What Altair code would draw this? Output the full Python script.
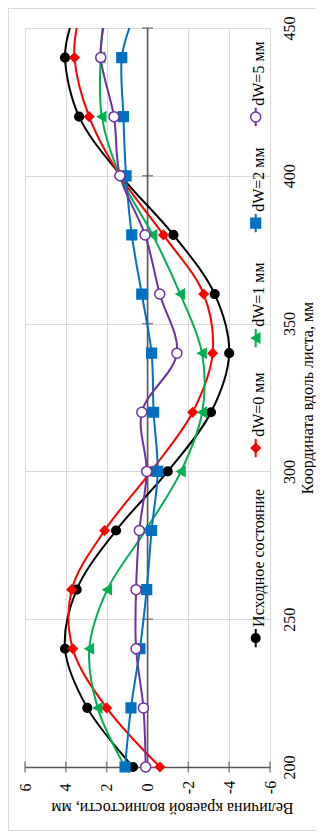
import altair as alt
import pandas as pd

# ---------------- data ----------------
coords = [200, 220, 240, 260, 280, 300, 320, 340, 360, 380, 400, 420, 440, 450]
series_names = ["Исходное состояние", "dW=0 мм", "dW=1 мм", "dW=2 мм", "dW=5 мм"]
v_initial = [0.71, 2.95, 4.04, 3.47, 1.54, -0.99, -3.11, -4.00, -3.29, -1.27, 1.30, 3.35, 4.04, 3.80]
v_dw0 = [-0.61, 2.00, 3.66, 3.71, 2.10, -0.17, -2.21, -3.19, -2.75, -0.78, 1.35, 2.86, 3.58, 3.47]
v_dw1 = [1.10, 2.44, 2.85, 1.97, 0.10, -1.64, -2.68, -2.67, -1.60, -0.25, 1.35, 2.24, 2.30, 2.20]
v_dw2 = [1.10, 0.81, 0.37, 0.04, -0.20, -0.50, -0.30, -0.20, 0.28, 0.77, 1.05, 1.18, 1.26, 0.89]
v_dw5 = [0.09, 0.20, 0.56, 0.56, 0.40, 0.04, 0.28, -1.44, -0.60, 0.12, 1.35, 1.64, 2.29, 2.16]
marker_coords = coords[:-1]           # the last point (450) carries no marker
value_ticks = [-6, -4, -2, 0, 2, 4, 6]
coord_ticks = [200, 250, 300, 350, 400, 450]

# ---------------- styles ----------------
colors = ["#000000", "#ff0000", "#00b050", "#0070c0", "#7030a0"]
fills = ["#000000", "#ff0000", "#00b050", "#0070c0", "#ffffff"]
shapes = ["circle", "diamond", "triangle-left", "square", "circle"]
sizes = [75, 100, 85, 65, 70]
stroke_widths = [1.5, 1.5, 1.5, 1.5, 2.0]
legend_marker_c = [243.6, 307.9, 345.1, 384.0, 419.9]   # legend layout (in axis units)
FONT = "Liberation Serif"
GRID = "#d9d9d9"
AXIS = "#595959"

all_values = [v_initial, v_dw0, v_dw1, v_dw2, v_dw5]
rows = []
for name, vals in zip(series_names, all_values):
    for c, v in zip(coords, vals):
        rows.append({"series": name, "c": c, "v": v, "marker": c in marker_coords})
df = pd.DataFrame(rows)

legend_df = pd.DataFrame({
    "series": series_names,
    "c": legend_marker_c,
    "c_lo": [m - 3.1 for m in legend_marker_c],
    "c_hi": [m + 3.1 for m in legend_marker_c],
    "c_text": [m + 3.8 for m in legend_marker_c],
    "v": [-5.3] * 5,
    "v_text": [-5.47] * 5,
})

color_scale = alt.Scale(domain=series_names, range=colors)
fill_scale = alt.Scale(domain=series_names, range=fills)
shape_scale = alt.Scale(domain=series_names, range=shapes)
size_scale = alt.Scale(domain=series_names, range=sizes)
sw_scale = alt.Scale(domain=series_names, range=stroke_widths)

x_scale = alt.Scale(domain=[-6, 6], reverse=True, nice=False, zero=False)
y_scale = alt.Scale(domain=[200, 450], nice=False, zero=False)

x_axis = alt.Axis(
    orient="bottom", values=value_ticks, grid=True, gridColor=GRID, gridWidth=1,
    domain=True, domainColor=AXIS, domainWidth=1.5, ticks=False,
    labelAngle=270, labelAlign="center", labelBaseline="middle", labelPadding=20,
    labelFlush=False, labelOverlap=False, labelFont=FONT, labelFontSize=16, labelColor="black",
    labelExpr="toString(datum.value)",
    title="Величина краевой волнистости, мм", titleFont=FONT, titleFontSize=16,
    titleFontWeight="normal", titleColor="black", titleAngle=180, titleAlign="center",
    titleBaseline="middle", titleX=147, titleY=40,
)
y_axis = alt.Axis(
    orient="right", values=coord_ticks, grid=True, gridColor=GRID, gridWidth=1,
    domain=False, ticks=False,
    labelAngle=270, labelAlign="center", labelBaseline="middle", labelPadding=19,
    labelFlush=False, labelOverlap=False, labelFont=FONT, labelFontSize=16, labelColor="black",
    title="Координата вдоль листа, мм", titleFont=FONT, titleFontSize=16,
    titleFontWeight="normal", titleColor="black", titleAngle=270, titleAlign="center",
    titleBaseline="middle", titleX=37, titleY=369.5,
)


def X(field):
    return alt.X(field, scale=x_scale, axis=x_axis)


def Y(field):
    return alt.Y(field, scale=y_scale, axis=y_axis)


# bottom axis cross ticks
bottom_ticks = alt.Chart(pd.DataFrame({"v": value_ticks, "c": [200] * len(value_ticks)})).mark_tick(
    orient="vertical", size=11, thickness=1.5, color=AXIS
).encode(x=X("v:Q"), y=Y("c:Q"))

# zero line with cross ticks
zero_line = alt.Chart(pd.DataFrame({"v": [0], "c": [200], "c2": [450]})).mark_rule(
    color=AXIS, strokeWidth=1.5
).encode(x=X("v:Q"), y=Y("c:Q"), y2="c2:Q")
zero_ticks = alt.Chart(pd.DataFrame({"v": [0] * 5, "c": coord_ticks[1:]})).mark_tick(
    orient="horizontal", size=11, thickness=1.5, color=AXIS
).encode(x=X("v:Q"), y=Y("c:Q"))

lines = alt.Chart(df).mark_line(interpolate="catmull-rom", strokeWidth=2).encode(
    x=X("v:Q"), y=Y("c:Q"),
    color=alt.Color("series:N", scale=color_scale, legend=None),
    order=alt.Order("c:Q"),
)

points = alt.Chart(df).transform_filter("datum.marker").mark_point(opacity=1).encode(
    x=X("v:Q"), y=Y("c:Q"),
    stroke=alt.Stroke("series:N", scale=color_scale, legend=None),
    fill=alt.Fill("series:N", scale=fill_scale, legend=None),
    shape=alt.Shape("series:N", scale=shape_scale, legend=None),
    size=alt.Size("series:N", scale=size_scale, legend=None),
    strokeWidth=alt.StrokeWidth("series:N", scale=sw_scale, legend=None),
)

# manual (rotated) legend
leg_lines = alt.Chart(legend_df).mark_rule(strokeWidth=2).encode(
    x=X("v:Q"), y=Y("c_lo:Q"), y2="c_hi:Q",
    color=alt.Color("series:N", scale=color_scale, legend=None),
)
leg_points = alt.Chart(legend_df).mark_point(opacity=1).encode(
    x=X("v:Q"), y=Y("c:Q"),
    stroke=alt.Stroke("series:N", scale=color_scale, legend=None),
    fill=alt.Fill("series:N", scale=fill_scale, legend=None),
    shape=alt.Shape("series:N", scale=shape_scale, legend=None),
    size=alt.Size("series:N", scale=size_scale, legend=None),
    strokeWidth=alt.StrokeWidth("series:N", scale=sw_scale, legend=None),
)
leg_text = alt.Chart(legend_df).mark_text(
    angle=270, align="left", baseline="middle", font=FONT, fontSize=16, color="black"
).encode(x=X("v_text:Q"), y=Y("c_text:Q"), text="series:N")

# outer frame of the figure (pixel positions)
frame_df = pd.DataFrame({"k": [0]})
frame_top = alt.Chart(frame_df).mark_rule(color=GRID, strokeWidth=1).encode(
    x=alt.value(-17), x2=alt.value(292), y=alt.value(-19.5))
frame_left = alt.Chart(frame_df).mark_rule(color=GRID, strokeWidth=1).encode(
    x=alt.value(-16.5), y=alt.value(-20), y2=alt.value(802.5))
frame_bottom = alt.Chart(frame_df).mark_rule(color=GRID, strokeWidth=1).encode(
    x=alt.value(-17), x2=alt.value(292), y=alt.value(802.5))

chart = alt.layer(
    bottom_ticks, zero_line, zero_ticks, lines, points,
    leg_lines, leg_points, leg_text, frame_top, frame_left, frame_bottom,
).properties(
    width=245, height=739,
    padding={"left": 17, "top": 20, "right": 46, "bottom": 64},
    autosize=alt.AutoSizeParams(type="none"),
    background="white",
).configure_view(stroke=None)

chart.save("out.html", embed_options={"renderer": "svg", "actions": False})
